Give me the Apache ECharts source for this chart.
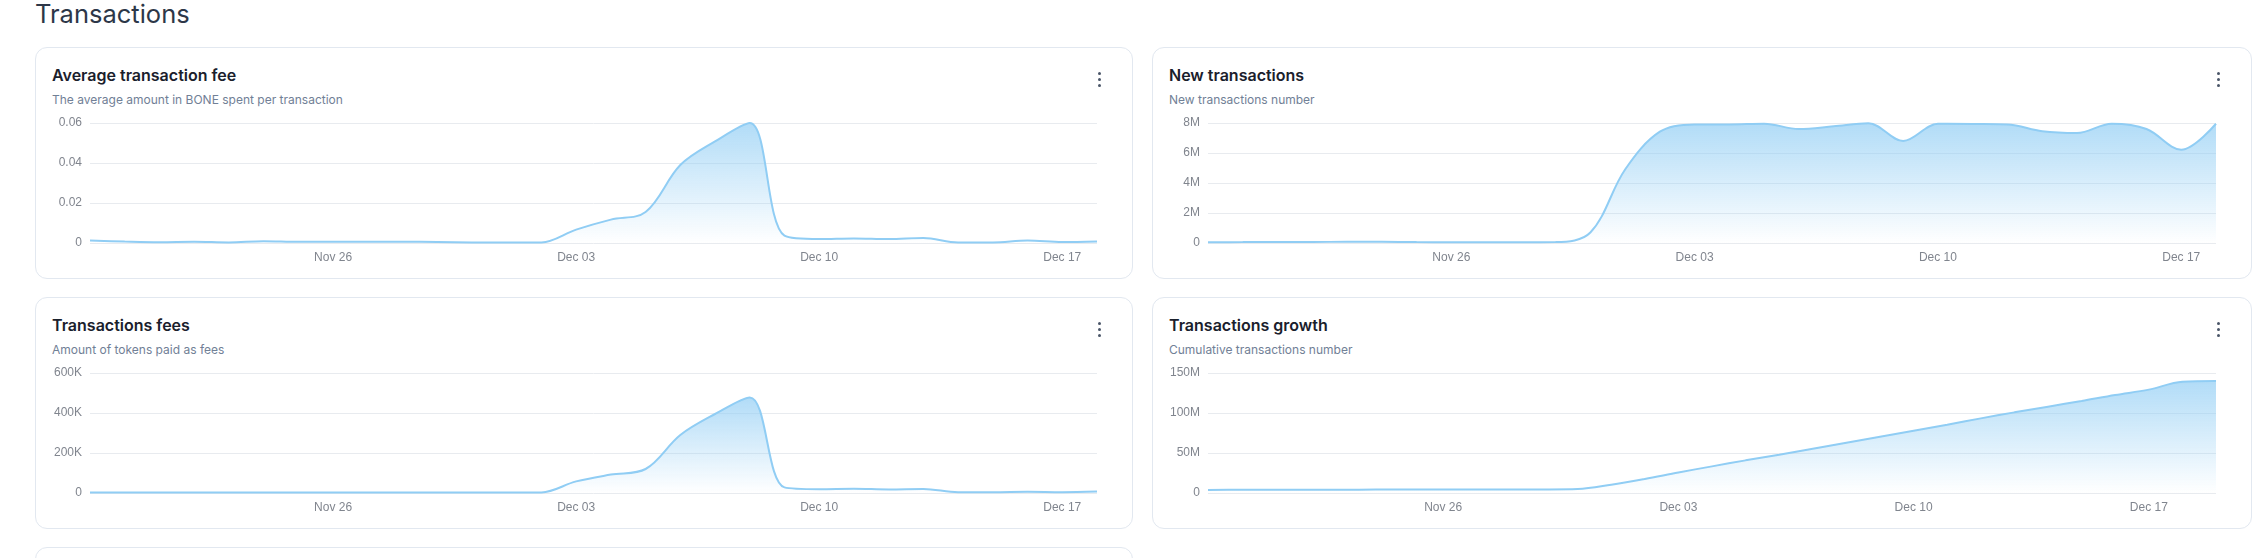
<!DOCTYPE html>
<html>
<head>
<meta charset="utf-8">
<script src="https://cdn.jsdelivr.net/npm/echarts@6/dist/echarts.min.js"></script>
<style>
  html, body { margin: 0; padding: 0; background: #ffffff; }
  body { width: 2258px; height: 558px; position: relative; overflow: hidden; font-family: Inter, "Noto Sans", sans-serif; }
  .page-title { position: absolute; left: 35px; top: 1px; font-size: 25.5px; line-height: 25.5px; font-weight: 400; color: #2d3748; }
  .card { position: absolute; box-sizing: border-box; border: 1px solid #e2e8f0; border-radius: 12px; background: #fff; }
  .ctitle { position: absolute; font-size: 16px; line-height: 16px; font-weight: 600; color: #1a202c; white-space: nowrap; }
  .csub { position: absolute; font-size: 12px; line-height: 12px; font-weight: 400; color: #718096; white-space: nowrap; }
  .dots { position: absolute; width: 4px; height: 16px; }
  .dots i { position: absolute; left: 0; width: 3px; height: 3px; border-radius: 50%; background: #4a5568; }
  .chart { position: absolute; }
</style>
</head>
<body>
<div class="page-title">Transactions</div>
<div id="root"></div>
<script>
// ---- data ----
const dates = ['Nov 19','Nov 20','Nov 21','Nov 22','Nov 23','Nov 24','Nov 25','Nov 26','Nov 27','Nov 28','Nov 29','Nov 30',
  'Dec 01','Dec 02','Dec 03','Dec 04','Dec 05','Dec 06','Dec 07','Dec 08','Dec 09','Dec 10','Dec 11','Dec 12','Dec 13',
  'Dec 14','Dec 15','Dec 16','Dec 17','Dec 18'];
const datesGrowth = ['Nov 19','Nov 20','Nov 21','Nov 22','Nov 23','Nov 24','Nov 25','Nov 26','Nov 27','Nov 28','Nov 29','Nov 30',
  'Dec 01','Dec 02','Dec 03','Dec 04','Dec 05','Dec 06','Dec 07','Dec 08','Dec 09','Dec 10','Dec 11','Dec 12','Dec 13',
  'Dec 14','Dec 15','Dec 16','Dec 17','Dec 18','Dec 19'];

// BONE per transaction
const avgFee = [0.0012,0.0007,0.0004,0.0006,0.0003,0.0009,0.0006,0.0006,0.0006,0.0006,0.0005,0.0003,
  0.0002,0.0003,0.0067,0.0117,0.0155,0.0390,0.0508,0.0600,0.0037,0.0020,0.0023,0.0020,0.0025,
  0.0003,0.0003,0.0012,0.0005,0.0008];
// millions of transactions
const newTx = [0.05,0.06,0.07,0.07,0.08,0.08,0.06,0.05,0.05,0.05,0.06,0.7,
  4.9,7.42,7.9,7.9,7.95,7.6,7.78,7.98,6.8,7.95,7.93,7.9,7.45,
  7.33,7.95,7.6,6.22,7.95];
// thousands of tokens
const fees = [2,2,2,2,2,2,2,2,2,2,2,2,
  2,3,58,92,120,290,395,478,28,19,21,18,20,
  4,4,6,4,7];
// millions of transactions (cumulative)
const cumTx = [3.9,3.95,4.0,4.07,4.14,4.22,4.3,4.35,4.4,4.45,4.5,5.0,
  10.4,17.6,25.7,33.3,40.8,47.9,55.4,62.9,70.4,77.9,85.4,93.3,100.8,
  107.9,115.0,122.5,129.2,139.0,140.0];

// y tick settings
const axisFee = { max: 0.06, interval: 0.02, unit: '' };
const axisNew = { max: 8, interval: 2, unit: 'M' };
const axisFees = { max: 600, interval: 200, unit: 'K' };
const axisCum = { max: 150, interval: 50, unit: 'M' };

const cards = [
  { title: 'Average transaction fee', sub: 'The average amount in BONE spent per transaction', x: 35, y: 47, w: 1098, cats: dates, vals: avgFee, ax: axisFee, gl: 55 },
  { title: 'New transactions', sub: 'New transactions number', x: 1152, y: 47, w: 1100, cats: dates, vals: newTx, ax: axisNew, gl: 56 },
  { title: 'Transactions fees', sub: 'Amount of tokens paid as fees', x: 35, y: 297, w: 1098, cats: dates, vals: fees, ax: axisFees, gl: 55 },
  { title: 'Transactions growth', sub: 'Cumulative transactions number', x: 1152, y: 297, w: 1100, cats: datesGrowth, vals: cumTx, ax: axisCum, gl: 56 }
];

const labelFont = '"Liberation Sans", Arial, sans-serif';
const labelColor = '#80858e';

const root = document.getElementById('root');
// partial card on third row
const extra = document.createElement('div');
extra.className = 'card';
Object.assign(extra.style, { left: '35px', top: '547px', width: '1098px', height: '100px' });
root.appendChild(extra);

cards.forEach((c) => {
  const card = document.createElement('div');
  card.className = 'card';
  Object.assign(card.style, { left: c.x + 'px', top: c.y + 'px', width: c.w + 'px', height: '232px' });
  root.appendChild(card);

  const t = document.createElement('div');
  t.className = 'ctitle'; t.textContent = c.title;
  Object.assign(t.style, { left: (c.x + 17) + 'px', top: (c.y + 20) + 'px' });
  root.appendChild(t);

  const s = document.createElement('div');
  s.className = 'csub'; s.textContent = c.sub;
  Object.assign(s.style, { left: (c.x + 17) + 'px', top: (c.y + 47) + 'px' });
  root.appendChild(s);

  const d = document.createElement('div');
  d.className = 'dots';
  Object.assign(d.style, { left: (c.x + c.w - 35) + 'px', top: (c.y + 25) + 'px' });
  d.innerHTML = '<i style="top:0"></i><i style="top:6px"></i><i style="top:12px"></i>';
  root.appendChild(d);

  const el = document.createElement('div');
  el.className = 'chart';
  Object.assign(el.style, { left: c.x + 'px', top: (c.y + 63) + 'px', width: c.w + 'px', height: '165px' });
  root.appendChild(el);

  const chart = echarts.init(el, null, { renderer: 'canvas' });
  chart.setOption({
    animation: false,
    grid: { left: c.gl, right: 36, top: 13, height: 120 },
    xAxis: {
      type: 'category', data: c.cats, boundaryGap: false,
      axisLine: { show: false }, axisTick: { show: false },
      axisLabel: {
        interval: (idx) => idx > 0 && idx % 7 === 0,
        color: labelColor, fontSize: 12, fontFamily: labelFont, margin: 9
      },
      splitLine: { show: false }
    },
    yAxis: {
      type: 'value', min: 0, max: c.ax.max, interval: c.ax.interval,
      axisLine: { show: false }, axisTick: { show: false },
      axisLabel: {
        color: labelColor, fontSize: 12, fontFamily: labelFont, margin: 8,
        formatter: (v) => v === 0 ? '0' : String(+v.toFixed(4)) + c.ax.unit
      },
      splitLine: { lineStyle: { color: '#e8ebef', width: 1 } }
    },
    series: [{
      type: 'line', data: c.vals, smooth: 0.35, showSymbol: false,
      lineStyle: { color: '#90cdf4', width: 2 },
      itemStyle: { color: '#90cdf4' },
      areaStyle: {
        color: new echarts.graphic.LinearGradient(0, 0, 0, 1, [
          { offset: 0, color: 'rgba(144,205,244,1)' },
          { offset: 1, color: 'rgba(144,205,244,0)' }
        ])
      }
    }]
  });
});
</script>
</body>
</html>
